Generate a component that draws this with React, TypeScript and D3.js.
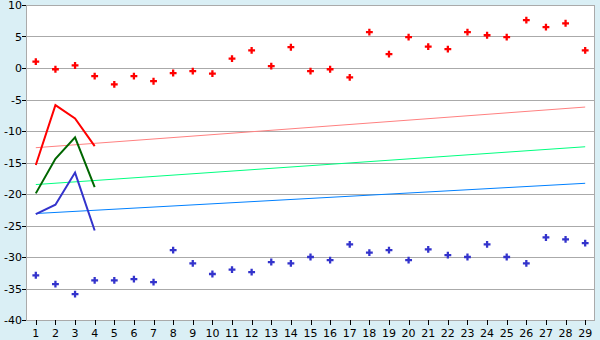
import React from "react";
import * as d3 from "d3";

const categories: string[] = Array.from({ length: 29 }, (_, i) => String(i + 1));
const yTicks: number[] = [10, 5, 0, -5, -10, -15, -20, -25, -30, -35, -40];

const redPoints: number[] = [1.0, -0.2, 0.4, -1.3, -2.6, -1.3, -2.1, -0.8, -0.5, -0.9, 1.5, 2.8, 0.3, 3.3, -0.5, -0.2, -1.5, 5.7, 2.2, 4.9, 3.4, 3.0, 5.7, 5.2, 4.9, 7.6, 6.5, 7.1, 2.8];
const bluePoints: number[] = [-32.9, -34.3, -35.9, -33.7, -33.7, -33.5, -34.0, -28.9, -31.0, -32.7, -32.0, -32.4, -30.8, -31.0, -30.0, -30.5, -28.0, -29.3, -28.9, -30.5, -28.8, -29.7, -30.0, -28.0, -30.0, -31.0, -26.9, -27.2, -27.8];

const redLine: number[] = [-15.4, -5.9, -8.0, -12.4];
const greenLine: number[] = [-19.9, -14.4, -11.0, -18.9];
const blueLine: number[] = [-23.2, -21.7, -16.6, -25.8];

const pinkTrend: number[] = [-12.65, -6.2];
const greenTrend: number[] = [-18.5, -12.5];
const blueTrend: number[] = [-23.1, -18.3];

const W = 600, H = 340;
const left = 26, right = 595, top = 5, bottom = 320;

export default function App() {
  const x = d3.scaleBand<string>().domain(categories).range([left, right]);
  const cx = (c: string) => (x(c) as number) + x.bandwidth() / 2;
  const y = d3.scaleLinear().domain([-40, 10]).range([bottom, top]);
  const lineGen = d3.line<number>().x((_, i) => cx(categories[i])).y((d) => y(d));
  const trendGen = (vals: number[]) =>
    d3.line<number>().x((_, i) => cx(categories[i === 0 ? 0 : categories.length - 1])).y((d) => y(d))(vals) as string;
  const marker = d3.symbol().type(d3.symbolCross).size(26)() as string;

  const font = "'DejaVu Sans', Verdana, sans-serif";
  return (
    <svg width={W} height={H} style={{ position: "absolute", left: 0, top: 0, display: "block" }}>
      <rect x={0} y={0} width={W} height={H} fill="#daeff5" />
      <rect x={left} y={top} width={right - left} height={bottom - top} fill="#ffffff" />
      {yTicks.map((t) => (
        <g key={t}>
          <line x1={left} x2={right} y1={Math.round(y(t)) + 0.5} y2={Math.round(y(t)) + 0.5} stroke="#aaaaaa" strokeWidth={1} />
          <line x1={left - 4} x2={left} y1={Math.round(y(t)) + 0.5} y2={Math.round(y(t)) + 0.5} stroke="#000" strokeWidth={1} />
          <text x={left - 4} y={y(t) + 4} textAnchor="end" fontFamily={font} fontSize={11} fill="#000">
            {String(t)}
          </text>
        </g>
      ))}
      <line x1={left + 0.5} x2={left + 0.5} y1={top} y2={bottom} stroke="#aaaaaa" />
      <line x1={right - 0.5} x2={right - 0.5} y1={top} y2={bottom} stroke="#aaaaaa" />
      {categories.map((c) => (
        <g key={c}>
          <line x1={Math.round(cx(c)) + 0.5} x2={Math.round(cx(c)) + 0.5} y1={bottom} y2={bottom + 5} stroke="#000" />
          <text x={cx(c)} y={bottom + 17} textAnchor="middle" fontFamily={font} fontSize={11} fill="#000">{c}</text>
        </g>
      ))}
      <path d={trendGen(pinkTrend)} fill="none" stroke="#ff8080" strokeWidth={1} />
      <path d={trendGen(greenTrend)} fill="none" stroke="#00ff80" strokeWidth={1} />
      <path d={trendGen(blueTrend)} fill="none" stroke="#0080ff" strokeWidth={1} />
      <path d={lineGen(redLine) as string} fill="none" stroke="#ff0000" strokeWidth={2} />
      <path d={lineGen(greenLine) as string} fill="none" stroke="#006600" strokeWidth={2} />
      <path d={lineGen(blueLine) as string} fill="none" stroke="#3333cc" strokeWidth={2} />
      {redPoints.map((v, i) => (
        <path key={"r" + i} d={marker} transform={`translate(${cx(categories[i])},${y(v)})`} fill="#ff0000" />
      ))}
      {bluePoints.map((v, i) => (
        <path key={"b" + i} d={marker} transform={`translate(${cx(categories[i])},${y(v)})`} fill="#3333cc" />
      ))}
    </svg>
  );
}
